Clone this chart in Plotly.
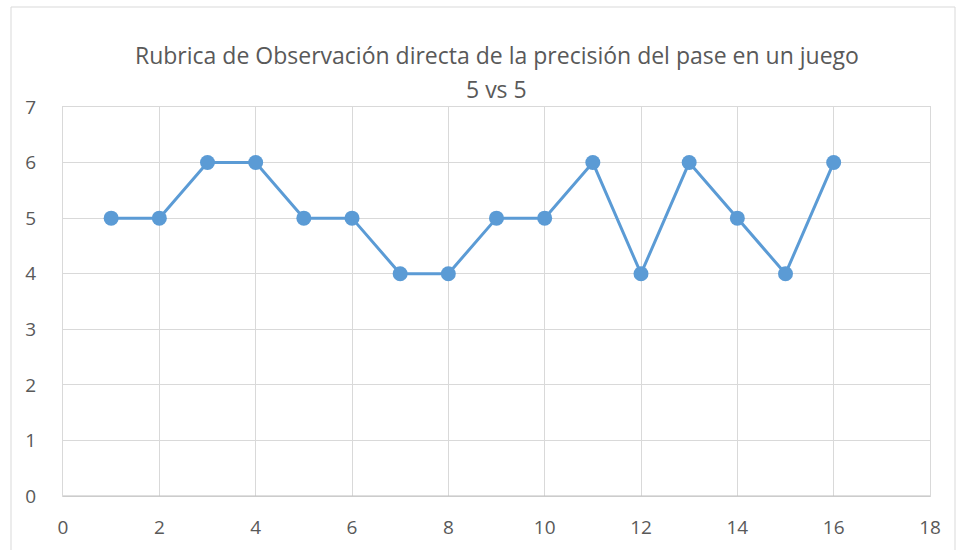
import plotly.graph_objects as go

x_vals = list(range(1, 17))
y_vals = [5, 5, 6, 6, 5, 5, 4, 4, 5, 5, 6, 4, 6, 5, 4, 6]
x_ticks = [0, 2, 4, 6, 8, 10, 12, 14, 16, 18]
y_ticks = [0, 1, 2, 3, 4, 5, 6, 7]
title_line1 = "Rubrica de Observación directa de la precisión del pase en un juego"
title_line2 = "5 vs 5"

W, H = 956, 550
L, R, T, B = 63, 26, 107, 54
pw, ph = W - L - R, H - T - B

def px_x(p):
    return (p - L) / pw

def px_y(p):
    return (H - B - p) / ph

fig = go.Figure()
fig.add_trace(go.Scatter(
    x=x_vals, y=y_vals, mode="lines+markers",
    line=dict(color="#5B9BD5", width=3),
    marker=dict(color="#5B9BD5", size=15),
    showlegend=False,
))

font = dict(family="Open Sans, Liberation Sans, sans-serif", color="#595959")

fig.update_layout(
    width=W, height=H,
    margin=dict(l=L, r=R, t=T, b=B, autoexpand=False),
    paper_bgcolor="white", plot_bgcolor="white",
    font=dict(**font, size=19),
    xaxis=dict(range=[0, 18], tickvals=x_ticks, showgrid=True, gridcolor="#D9D9D9",
               gridwidth=1, zeroline=False, showline=True, linecolor="#D9D9D9",
               mirror=True, ticks="", ticklabelstandoff=14, automargin=False,
               tickfont=dict(size=19, color="#595959")),
    yaxis=dict(range=[0, 7], tickvals=y_ticks, showgrid=True, gridcolor="#D9D9D9",
               gridwidth=1, zeroline=False, showline=True, linecolor="#D9D9D9",
               mirror=True, ticks="", ticklabelstandoff=22, automargin=False,
               tickfont=dict(size=19, color="#595959")),
    shapes=[
        dict(type="rect", xref="paper", yref="paper",
             x0=px_x(11), x1=px_x(955), y0=px_y(560), y1=px_y(7),
             line=dict(color="#D9D9D9", width=1), fillcolor="rgba(0,0,0,0)", layer="below"),
        dict(type="line", xref="paper", yref="paper", x0=0, x1=1, y0=0, y1=0,
             line=dict(color="#BFBFBF", width=1)),
    ],
    annotations=[
        dict(text=title_line1, xref="paper", yref="paper", x=0.5, y=px_y(55),
             showarrow=False, xanchor="center", yanchor="middle",
             font=dict(**font, size=23)),
        dict(text=title_line2, xref="paper", yref="paper", x=0.5, y=px_y(89),
             showarrow=False, xanchor="center", yanchor="middle",
             font=dict(**font, size=23)),
    ],
)

fig.write_html("out.html", config={"displayModeBar": False},
               post_script="document.body.style.margin='0';document.body.style.overflow='hidden';")
